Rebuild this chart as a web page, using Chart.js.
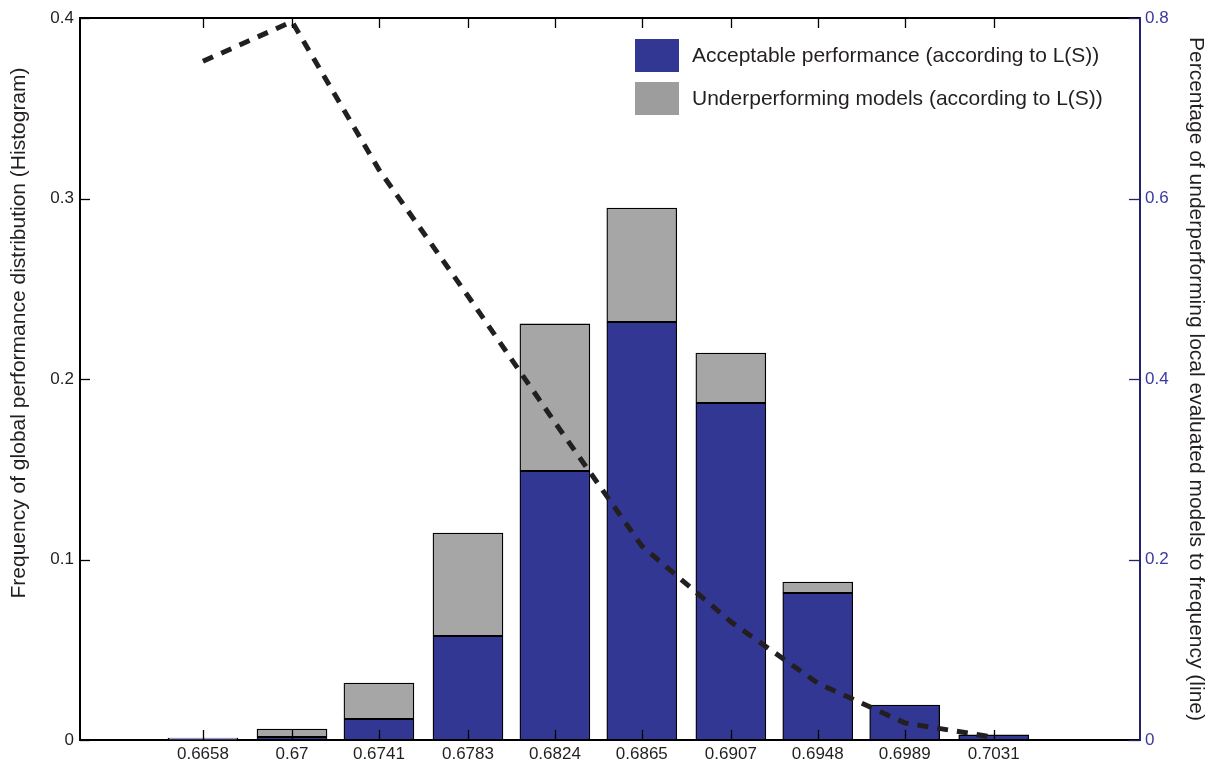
<!DOCTYPE html>
<html><head><meta charset="utf-8">
<script src="https://cdn.jsdelivr.net/npm/chart.js@4"></script>
<style>html,body{margin:0;padding:0;background:#fff;} #wrap{width:1213px;height:765px;position:relative}</style>
</head><body><div id="wrap"><canvas id="c" width="1213" height="765"></canvas></div>
<script>
// ---- data ----
const binCenters = [0.6658, 0.67, 0.6741, 0.6783, 0.6824, 0.6865, 0.6907, 0.6948, 0.6989, 0.7031];
const tickLabels = ['0.6658', '0.67', '0.6741', '0.6783', '0.6824', '0.6865', '0.6907', '0.6948', '0.6989', '0.7031'];
const acceptable = [0.0005, 0.0017, 0.0116, 0.0576, 0.149, 0.2316, 0.1867, 0.0814, 0.0194, 0.0028];
const underperforming = [0.0006, 0.0044, 0.0200, 0.0571, 0.0815, 0.0631, 0.0277, 0.0061, 0, 0];
const underPct = [0.752, 0.796, 0.632, 0.492, 0.352, 0.215, 0.131, 0.063, 0.019, 0.003];
const leftTicks = [0, 0.1, 0.2, 0.3, 0.4];
const rightTicks = [0, 0.2, 0.4, 0.6, 0.8];
const seriesNames = ['Acceptable performance (according to L(S))', 'Underperforming models (according to L(S))'];
const leftTitle = 'Frequency of global performance distribution (Histogram)';
const rightTitle = 'Percentage of underperforming local evaluated models to frequency (line)';

const FONT = "'Liberation Sans', Arial, Helvetica, sans-serif";
const TXT = '#231f20';
const BLUE = '#333794';
const GRAY = '#a6a6a6';
const NAVY = '#22226e';
const BLUE_TXT = '#3a3aa0';

Chart.defaults.font.family = FONT;
Chart.defaults.color = TXT;

const decor = {
  id: 'decor',
  afterDatasetsDraw(chart) {
    const ctx = chart.ctx, a = chart.chartArea;
    const sx = chart.scales.x, sy = chart.scales.y, sy2 = chart.scales.y2;
    ctx.save();
    ctx.strokeStyle = '#000'; ctx.lineWidth = 2;
    ctx.beginPath(); ctx.moveTo(a.left, a.top); ctx.lineTo(a.right, a.top); ctx.stroke();
    ctx.lineWidth = 1.3;
    sx.ticks.forEach(t => {
      const p = Math.round(sx.getPixelForValue(t.value)) + 0.5;
      ctx.beginPath();
      ctx.moveTo(p, a.bottom); ctx.lineTo(p, a.bottom - 10);
      ctx.moveTo(p, a.top); ctx.lineTo(p, a.top + 10);
      ctx.stroke();
    });
    sy.ticks.forEach(t => {
      const p = Math.round(sy.getPixelForValue(t.value)) + 0.5;
      ctx.beginPath(); ctx.moveTo(a.left, p); ctx.lineTo(a.left + 10, p); ctx.stroke();
    });
    ctx.strokeStyle = NAVY;
    sy2.ticks.forEach(t => {
      const p = Math.round(sy2.getPixelForValue(t.value)) + 0.5;
      ctx.beginPath(); ctx.moveTo(a.right, p); ctx.lineTo(a.right - 11, p); ctx.stroke();
    });
    ctx.restore();
  },
  afterDraw(chart) {
    const ctx = chart.ctx, a = chart.chartArea;
    ctx.save();
    ctx.font = '21px ' + FONT;
    ctx.fillStyle = TXT;
    ctx.textAlign = 'center'; ctx.textBaseline = 'middle';
    ctx.translate(19, (a.top + a.bottom) / 2 - 46);
    ctx.rotate(-Math.PI / 2);
    ctx.fillText(leftTitle, 0, 0);
    ctx.restore();
    ctx.save();
    ctx.font = '21px ' + FONT;
    ctx.textAlign = 'left'; ctx.textBaseline = 'middle';
    const ds = chart.data.datasets;
    const legendColors = [BLUE, '#9d9d9d'];
    for (let i = 0; i < 2; i++) {
      const y0 = a.top + 21 + i * 43;
      ctx.fillStyle = legendColors[i];
      ctx.fillRect(635, y0, 44, 33);
      ctx.fillStyle = TXT;
      ctx.fillText(ds[i].label, 692, y0 + 17);
    }
    ctx.restore();
  }
};

new Chart(document.getElementById('c'), {
  data: {
    datasets: [
      {
        type: 'bar', label: seriesNames[0],
        data: binCenters.map((x, i) => ({ x: x, y: acceptable[i] })),
        backgroundColor: BLUE, borderColor: '#000', borderWidth: 1.3, borderSkipped: false,
        barThickness: 70, stack: 'h', yAxisID: 'y', order: 1
      },
      {
        type: 'bar', label: seriesNames[1],
        data: binCenters.map((x, i) => ({ x: x, y: underperforming[i] })),
        backgroundColor: GRAY, borderColor: '#000', borderWidth: 1.3, borderSkipped: false,
        barThickness: 70, stack: 'h', yAxisID: 'y', order: 2
      },
      {
        type: 'line', label: 'line',
        data: binCenters.map((x, i) => ({ x: x, y: underPct[i] })),
        yAxisID: 'y2', borderColor: TXT, borderWidth: 5, borderDash: [11, 9],
        pointRadius: 0, fill: false, tension: 0, order: 0
      }
    ]
  },
  options: {
    responsive: false, animation: false, devicePixelRatio: 1,
    layout: { padding: { top: 18, left: 0, right: 0, bottom: 0 } },
    plugins: { legend: { display: false }, tooltip: { enabled: false } },
    scales: {
      x: {
        type: 'linear', min: 0.66, max: 0.71, z: 1, offset: false,
        afterBuildTicks: s => { s.ticks = binCenters.map(v => ({ value: v })); },
        afterFit: s => { s.height = 25; },
        ticks: { callback: (v, i) => tickLabels[i], font: { size: 17 }, color: TXT, padding: 4, maxRotation: 0, autoSkip: false },
        grid: { display: false, drawTicks: false, offset: false },
        border: { display: true, color: '#000', width: 2 }
      },
      y: {
        type: 'linear', position: 'left', min: 0, max: 0.4, stacked: true, z: 1,
        afterBuildTicks: s => { s.ticks = leftTicks.map(v => ({ value: v })); },
        afterFit: s => { s.width = 80; },
        ticks: { callback: v => String(v), font: { size: 17 }, color: TXT, padding: 6 },
        grid: { display: false, drawTicks: false },
        border: { display: true, color: '#000', width: 2 }
      },
      y2: {
        type: 'linear', position: 'right', min: 0, max: 0.8, stacked: false, z: 1,
        afterBuildTicks: s => { s.ticks = rightTicks.map(v => ({ value: v })); },
        afterFit: s => { s.width = 73; },
        ticks: { callback: v => String(v), font: { size: 17 }, color: BLUE_TXT, padding: 5 },
        grid: { display: false, drawTicks: false },
        border: { display: true, color: NAVY, width: 2 },
        title: { display: true, text: rightTitle, font: { size: 21 }, color: TXT, padding: { top: 5, bottom: 0 } }
      }
    }
  },
  plugins: [decor]
});
</script>
</body></html>
